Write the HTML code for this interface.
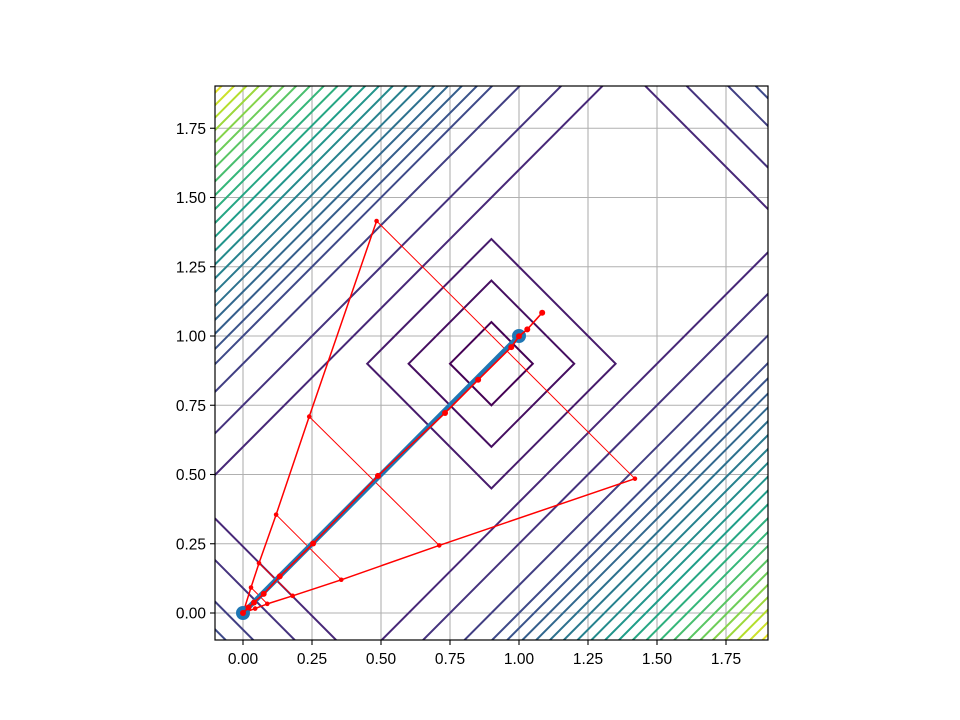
<!DOCTYPE html>
<html><head><meta charset="utf-8">
<style>
html,body{margin:0;padding:0;background:#fff;width:960px;height:720px;overflow:hidden;}
svg{display:block;font-family:"Liberation Sans","DejaVu Sans",sans-serif;}
</style></head>
<body>
<svg id="chart" width="960" height="720" viewBox="0 0 960 720">
  <defs><clipPath id="plotclip"><rect x="215" y="86" width="553" height="554"/></clipPath></defs>
  <rect x="0" y="0" width="960" height="720" fill="#fff"/>
  <g id="grid"></g>
  <g id="contours" clip-path="url(#plotclip)"></g>
  <g id="paths" clip-path="url(#plotclip)"></g>
  <rect x="215" y="86" width="553" height="554" fill="none" stroke="#000" stroke-width="1.2"/>
  <g id="ticks"></g>
</svg>
<script>
// ---- data ----
const xTicks = [0.00, 0.25, 0.50, 0.75, 1.00, 1.25, 1.50, 1.75];
const yTicks = [0.00, 0.25, 0.50, 0.75, 1.00, 1.25, 1.50, 1.75];
// contour level half-widths along v = x - y
const levelV = [0.15,0.30,0.45,0.60,0.75,0.90,1.00,1.055,1.11,1.16,1.21,1.26,1.31,1.36,1.41,1.46,1.51,1.56,1.61,1.66,1.71,1.755,1.80,1.845,1.89,1.935,1.98,2.02];
// contour level half-widths along u = x + y - 1.8
const levelU = [0.15,0.30,0.45,1.56,1.71,1.86,1.96,2.02,2.07,2.12,2.17,2.22,2.27,2.32,2.37,2.42,2.47,2.52,2.57,2.62,2.67,2.72,2.76,2.81,2.85,2.90,2.94,2.98];
// steep ray path
const steepX = [0.0, 0.029, 0.058, 0.12, 0.24, 0.484];
const steepY = [0.0, 0.092, 0.18, 0.355, 0.709, 1.415];
// shallow ray path
const shallowX = [1.42, 0.711, 0.356, 0.18, 0.088, 0.044, 0.0];
const shallowY = [0.485, 0.244, 0.12, 0.062, 0.033, 0.016, 0.0];
// cross connections (steep index -> shallow index)
const crossFrom = [5, 4, 3, 2, 1];
const crossTo = [0, 1, 2, 3, 4];
// diagonal red path
const diagX = [0.0, 0.02, 0.04, 0.075, 0.133, 0.254, 0.489, 0.732, 0.852, 0.972, 1.0, 1.03, 1.084];
const diagY = [0.0, 0.02, 0.038, 0.069, 0.132, 0.251, 0.495, 0.722, 0.842, 0.96, 0.999, 1.024, 1.084];
// blue path
const blueX = [0.0, 1.0];
const blueY = [0.0, 1.0];

// ---- axes ----
const X = x => 243 + 276 * x;
const Y = y => 613 - 277 * y;
const NS = "http://www.w3.org/2000/svg";
function mk(tag, attrs, parent){ const e=document.createElementNS(NS,tag); for(const k in attrs) e.setAttribute(k,attrs[k]); parent.appendChild(e); return e; }

const viridis = [[68,1,84],[72,40,120],[62,74,137],[49,104,142],[38,130,142],[31,158,137],[53,183,121],[109,205,89],[180,222,44],[253,231,37]];
function vir(t){ t=Math.max(0,Math.min(1,t)); const s=t*(viridis.length-1); const i=Math.min(Math.floor(s),viridis.length-2); const f=s-i; const a=viridis[i],b=viridis[i+1]; return `rgb(${Math.round(a[0]+(b[0]-a[0])*f)},${Math.round(a[1]+(b[1]-a[1])*f)},${Math.round(a[2]+(b[2]-a[2])*f)})`; }

const grid=document.getElementById('grid'), ticks=document.getElementById('ticks');
xTicks.forEach(t=>{
  const gl=mk('line',{x1:X(t),x2:X(t),y1:86,y2:640,stroke:'#b0b0b0','stroke-width':1.1},grid);
  
  
  const tk=mk('line',{x1:X(t),x2:X(t),y1:640,y2:645,stroke:'#000','stroke-width':1.1},ticks);
  
  
  const tx=mk('text',{x:X(t),y:664,'text-anchor':'middle','font-size':'15.5px',fill:'#000'},ticks);
  tx.textContent=t.toFixed(2);
  
  
});
yTicks.forEach(t=>{
  const gl=mk('line',{x1:215,x2:768,y1:Y(t),y2:Y(t),stroke:'#b0b0b0','stroke-width':1.1},grid);
  
  
  const tk=mk('line',{x1:210,x2:215,y1:Y(t),y2:Y(t),stroke:'#000','stroke-width':1.1},ticks);
  
  
  const tx=mk('text',{x:206,y:Y(t)+5.5,'text-anchor':'end','font-size':'15.5px',fill:'#000'},ticks);
  tx.textContent=t.toFixed(2);
  
  
});

// ---- contours ----
const cg=document.getElementById('contours');
const uv=(u,v)=>[X((u+v+1.8)/2),Y((u-v+1.8)/2)];
levelV.forEach((d,i)=>{
  const U=levelU[i];
  const pts=[uv(U,d),uv(U,-d),uv(-U,-d),uv(-U,d)].map(p=>p[0].toFixed(1)+','+p[1].toFixed(1)).join(' ');
  const p=mk('polygon',{points:pts,fill:'none',stroke:vir(i/(levelV.length-1)),'stroke-width':2},cg);
  
  
});

// ---- paths ----
const pg=document.getElementById('paths');
function poly(xs,ys,color,w,name){
  const pts=xs.map((x,i)=>X(x).toFixed(1)+','+Y(ys[i]).toFixed(1)).join(' ');
  const l=mk('polyline',{points:pts,fill:'none',stroke:color,'stroke-width':w,'stroke-linejoin':'round'},pg);
  
  
}
function dots(xs,ys,color,r,name){
  xs.forEach((x,i)=>{
    const c=mk('circle',{cx:X(x),cy:Y(ys[i]),r:r,fill:color},pg);
    
    
  });
}
crossFrom.forEach((a,k)=>{
  const b=crossTo[k];
  poly([steepX[a],shallowX[b]],[steepY[a],shallowY[b]],'#ff0000',1,'red-cross-segment');
});
poly(steepX,steepY,'#ff0000',1.5,'red-steep-path');
poly(shallowX,shallowY,'#ff0000',1.5,'red-shallow-path');
dots(steepX,steepY,'#ff0000',2.3,'red-steep-point');
dots(shallowX,shallowY,'#ff0000',2.3,'red-shallow-point');
poly(blueX,blueY,'#1f77b4',5,'blue-path');
dots(blueX,blueY,'#1f77b4',7,'blue-endpoint');
poly(diagX,diagY,'#ff0000',1.6,'red-diagonal-path');
dots(diagX,diagY,'#ff0000',3,'red-diagonal-point');
</script>
</body></html>
